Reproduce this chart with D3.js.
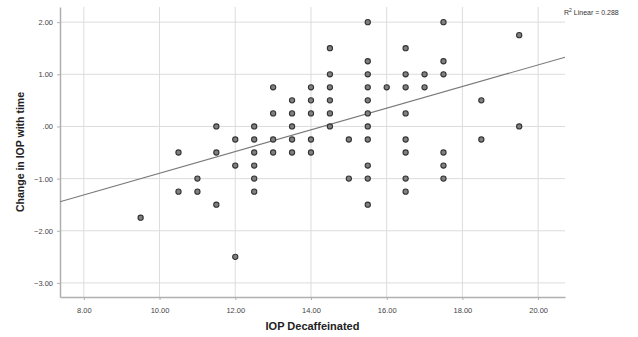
<!DOCTYPE html>
<html>
<head>
<meta charset="utf-8">
<script src="https://cdn.jsdelivr.net/npm/d3@7"></script>
<style>
  body { margin: 0; background: #fff; }
  svg { font-family: "Liberation Sans", Arial, sans-serif; }
</style>
</head>
<body>
<div id="chart"></div>
<script>
// IOP Decaffeinated (x) vs change in IOP (y)
const xValues = [
  9.5,
  10.5, 10.5,
  11, 11,
  11.5, 11.5, 11.5,
  12, 12, 12,
  12.5, 12.5, 12.5, 12.5, 12.5, 12.5,
  13, 13, 13, 13,
  13.5, 13.5, 13.5, 13.5, 13.5,
  14, 14, 14, 14, 14,
  14.5, 14.5, 14.5, 14.5, 14.5, 14.5,
  15, 15,
  15.5, 15.5, 15.5, 15.5, 15.5, 15.5, 15.5, 15.5, 15.5, 15.5, 15.5,
  16,
  16.5, 16.5, 16.5, 16.5, 16.5, 16.5, 16.5, 16.5,
  17, 17,
  17.5, 17.5, 17.5, 17.5, 17.5, 17.5,
  18.5, 18.5,
  19.5, 19.5
];
const yValues = [
  -1.75,
  -0.5, -1.25,
  -1.0, -1.25,
  0, -0.5, -1.5,
  -0.25, -0.75, -2.5,
  0, -0.25, -0.5, -0.75, -1.0, -1.25,
  0.75, 0.25, -0.25, -0.5,
  0.5, 0.25, 0, -0.25, -0.5,
  0.75, 0.5, 0.25, -0.25, -0.5,
  1.5, 1.0, 0.75, 0.5, 0.25, 0,
  -0.25, -1.0,
  2.0, 1.25, 1.0, 0.75, 0.5, 0.25, 0, -0.25, -0.75, -1.0, -1.5,
  0.75,
  1.5, 1.0, 0.75, 0.25, -0.25, -0.5, -1.0, -1.25,
  1.0, 0.75,
  2.0, 1.25, 1.0, -0.5, -0.75, -1.0,
  0.5, -0.25,
  1.75, 0
];
const xTicks = [8, 10, 12, 14, 16, 18, 20];
const yTicks = [2, 1, 0, -1, -2, -3];
const rSquared = 0.288;
// fit line as drawn in the picture (overlapping cases hidden in the scatter)
const fitSlope = 0.2076;
const fitIntercept = -2.972;

const width = 638, height = 337;
const margin = { top: 7, right: 73, bottom: 40, left: 60 };

const svg = d3.select('#chart').append('svg')
  .attr('width', width)
  .attr('height', height);

const x = d3.scaleLinear().domain([7.37, 20.71]).range([margin.left, width - margin.right]);
const y = d3.scaleLinear().domain([-3.27, 2.29]).range([height - margin.bottom, margin.top]);

const fmtY = v => v === 0 ? '.00' : d3.format('.2f')(v);

// gridlines
svg.append('g')
  .selectAll('line')
  .data(xTicks)
  .enter()
  .append('line')
  .attr('x1', d => x(d)).attr('x2', d => x(d))
  .attr('y1', margin.top).attr('y2', height - margin.bottom)
  .attr('stroke', '#dcdcdc')
  .attr('stroke-width', 1);

svg.append('g')
  .selectAll('line')
  .data(yTicks)
  .enter()
  .append('line')
  .attr('x1', margin.left).attr('x2', width - margin.right)
  .attr('y1', d => y(d)).attr('y2', d => y(d))
  .attr('stroke', '#dcdcdc')
  .attr('stroke-width', 1);

// axes
const xAxis = svg.append('g')
  .attr('transform', `translate(0,${height - margin.bottom})`)
  .call(d3.axisBottom(x).tickValues(xTicks).tickFormat(d3.format('.2f')).tickSize(3).tickSizeOuter(0));
const yAxis = svg.append('g')
  .attr('transform', `translate(${margin.left},0)`)
  .call(d3.axisLeft(y).tickValues(yTicks).tickFormat(fmtY).tickSize(3).tickSizeOuter(0));

[xAxis, yAxis].forEach(g => {
  g.select('.domain').attr('stroke', '#b0b0b0').attr('stroke-width', 1.5);
  g.selectAll('.tick line').attr('stroke', '#b0b0b0');
  g.selectAll('.tick text')
    .attr('fill', '#444')
    .attr('font-size', '7.5px')
    .attr('font-family', '"Liberation Sans", Arial, sans-serif');
});
xAxis.selectAll('.tick text').attr('dy', '1.1em').attr('y', 8);
yAxis.selectAll('.tick text').attr('x', -7);

// axis titles
svg.append('text')
  .attr('x', (margin.left + width - margin.right) / 2)
  .attr('y', 330)
  .attr('text-anchor', 'middle')
  .attr('font-size', '11px')
  .attr('font-weight', 'bold')
  .attr('fill', '#222')
  .text('IOP Decaffeinated');

svg.append('text')
  .attr('transform', `translate(24,${(margin.top + height - margin.bottom) / 2}) rotate(-90)`)
  .attr('text-anchor', 'middle')
  .attr('font-size', '10.5px')
  .attr('font-weight', 'bold')
  .attr('fill', '#222')
  .text('Change in IOP with time');

// linear fit
const [x0, x1] = x.domain();
svg.append('line')
  .attr('x1', x(x0)).attr('y1', y(fitIntercept + fitSlope * x0))
  .attr('x2', x(x1)).attr('y2', y(fitIntercept + fitSlope * x1))
  .attr('stroke', '#7a7a7a')
  .attr('stroke-width', 1.1);

// points
svg.append('g')
  .selectAll('circle')
  .data(xValues.map((v, i) => [v, yValues[i]]))
  .enter()
  .append('circle')
  .attr('cx', d => x(d[0]))
  .attr('cy', d => y(d[1]))
  .attr('r', 2.6)
  .attr('fill', '#808080')
  .attr('stroke', '#333')
  .attr('stroke-width', 1.1);

// R² label
const r2 = svg.append('text')
  .attr('x', 564)
  .attr('y', 15)
  .attr('font-size', '7px')
  .attr('fill', '#333');
r2.append('tspan').text('R');
r2.append('tspan').attr('dy', -3).attr('font-size', '5px').text('2');
r2.append('tspan').attr('dy', 3).text(' Linear = ' + d3.format('.3f')(rSquared));
</script>
</body>
</html>
